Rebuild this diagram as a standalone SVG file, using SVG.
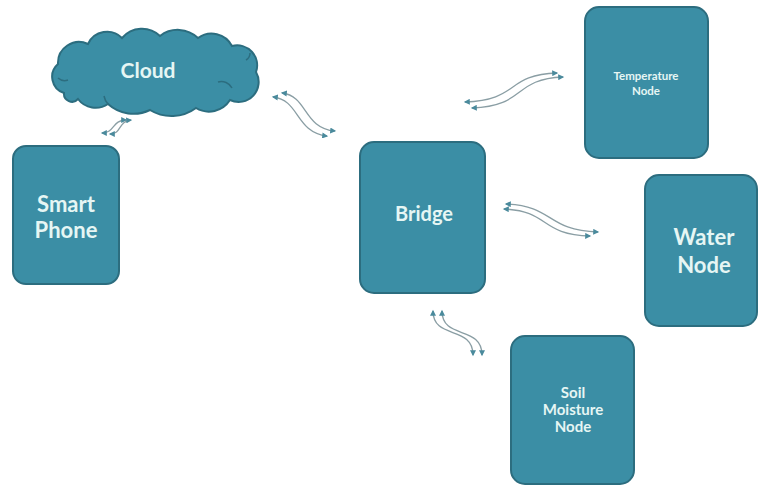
<svg xmlns="http://www.w3.org/2000/svg" width="758" height="486" viewBox="0 0 758 486">
<style>
.box{fill:#3b8ea5;stroke:#2c6d7f;stroke-width:2}
.t{fill:#e6f6f4;font-family:Lato,"Open Sans",sans-serif;font-weight:bold;text-anchor:middle}
.c{fill:none;stroke:#8a9ea4;stroke-width:1.3;marker-start:url(#ah);marker-end:url(#ah)}
.inner{fill:none;stroke:#2c6d7f;stroke-width:1.5}
</style>
<defs>
<marker id="ah" viewBox="0 0 10 10" refX="8" refY="5" markerWidth="7" markerHeight="6" markerUnits="userSpaceOnUse" orient="auto-start-reverse">
<path d="M0,0 L10,5 L0,10 z" fill="#4a8a9c"/>
</marker>
</defs>
<rect width="758" height="486" fill="#ffffff"/>
<g id="connectors">
<path class="c" d="M102,133 C115,133 112,120 126,120"/>
<path class="c" d="M110,134 C122,134 118,121 131,120"/>
<path class="c" d="M273,97 C300,100 295,132 327,136"/>
<path class="c" d="M282,93 C308,96 303,128 335,131"/>
<path class="c" d="M465,102 C520,100 505,75 557,73"/>
<path class="c" d="M472,108 C527,106 512,79 563,77"/>
<path class="c" d="M506,204 C555,206 545,230 598,232"/>
<path class="c" d="M504,209 C550,211 540,235 590,236"/>
<path class="c" d="M433,311 C433,340 473,325 473,355"/>
<path class="c" d="M442,311 C442,340 482,325 482,355"/>
</g>
<g id="cloud">
<path class="box" d="M64,93 A17 17 0 0 1 58,64 A21 21 0 0 1 88,44 A21 21 0 0 1 122,38 A26 26 0 0 1 160,36 A29 29 0 0 1 198,38 A23 23 0 0 1 232,46 A20 20 0 0 1 256,72 A20 20 0 0 1 230,100 A25 25 0 0 1 196,108 A41 41 0 0 1 150,110 A38 38 0 0 1 108,104 A22 22 0 0 1 78,99 A8 8 0 0 1 64,93 Z"/>
<path class="inner" d="M58,78 A10 10 0 0 0 68,80"/>
<path class="inner" d="M246,60 A8 8 0 0 0 250,53"/>
<path class="inner" d="M218,82 A12 12 0 0 1 232,88"/>
<path class="inner" d="M108,104 A16 16 0 0 1 104,96"/>
<text class="t" x="148" y="78" font-size="21">Cloud</text>
</g>
<g id="smartphone">
<rect class="box" x="13" y="146" width="106" height="138" rx="13"/>
<text class="t" x="66" y="212" font-size="22">Smart</text>
<text class="t" x="66" y="238" font-size="22">Phone</text>
</g>
<g id="bridge">
<rect class="box" x="360" y="142" width="125" height="151" rx="14"/>
<text class="t" x="424" y="221" font-size="20">Bridge</text>
</g>
<g id="temperature">
<rect class="box" x="585" y="7" width="123" height="151" rx="14"/>
<text class="t" x="646" y="80" font-size="11.5">Temperature</text>
<text class="t" x="646" y="95" font-size="11.5">Node</text>
</g>
<g id="water">
<rect class="box" x="645" y="175" width="112" height="151" rx="14"/>
<text class="t" x="704" y="245" font-size="22">Water</text>
<text class="t" x="704" y="273" font-size="22">Node</text>
</g>
<g id="soil">
<rect class="box" x="511" y="336" width="123" height="148" rx="14"/>
<text class="t" x="573" y="398" font-size="15">Soil</text>
<text class="t" x="573" y="415" font-size="15">Moisture</text>
<text class="t" x="573" y="432" font-size="15">Node</text>
</g>
</svg>
